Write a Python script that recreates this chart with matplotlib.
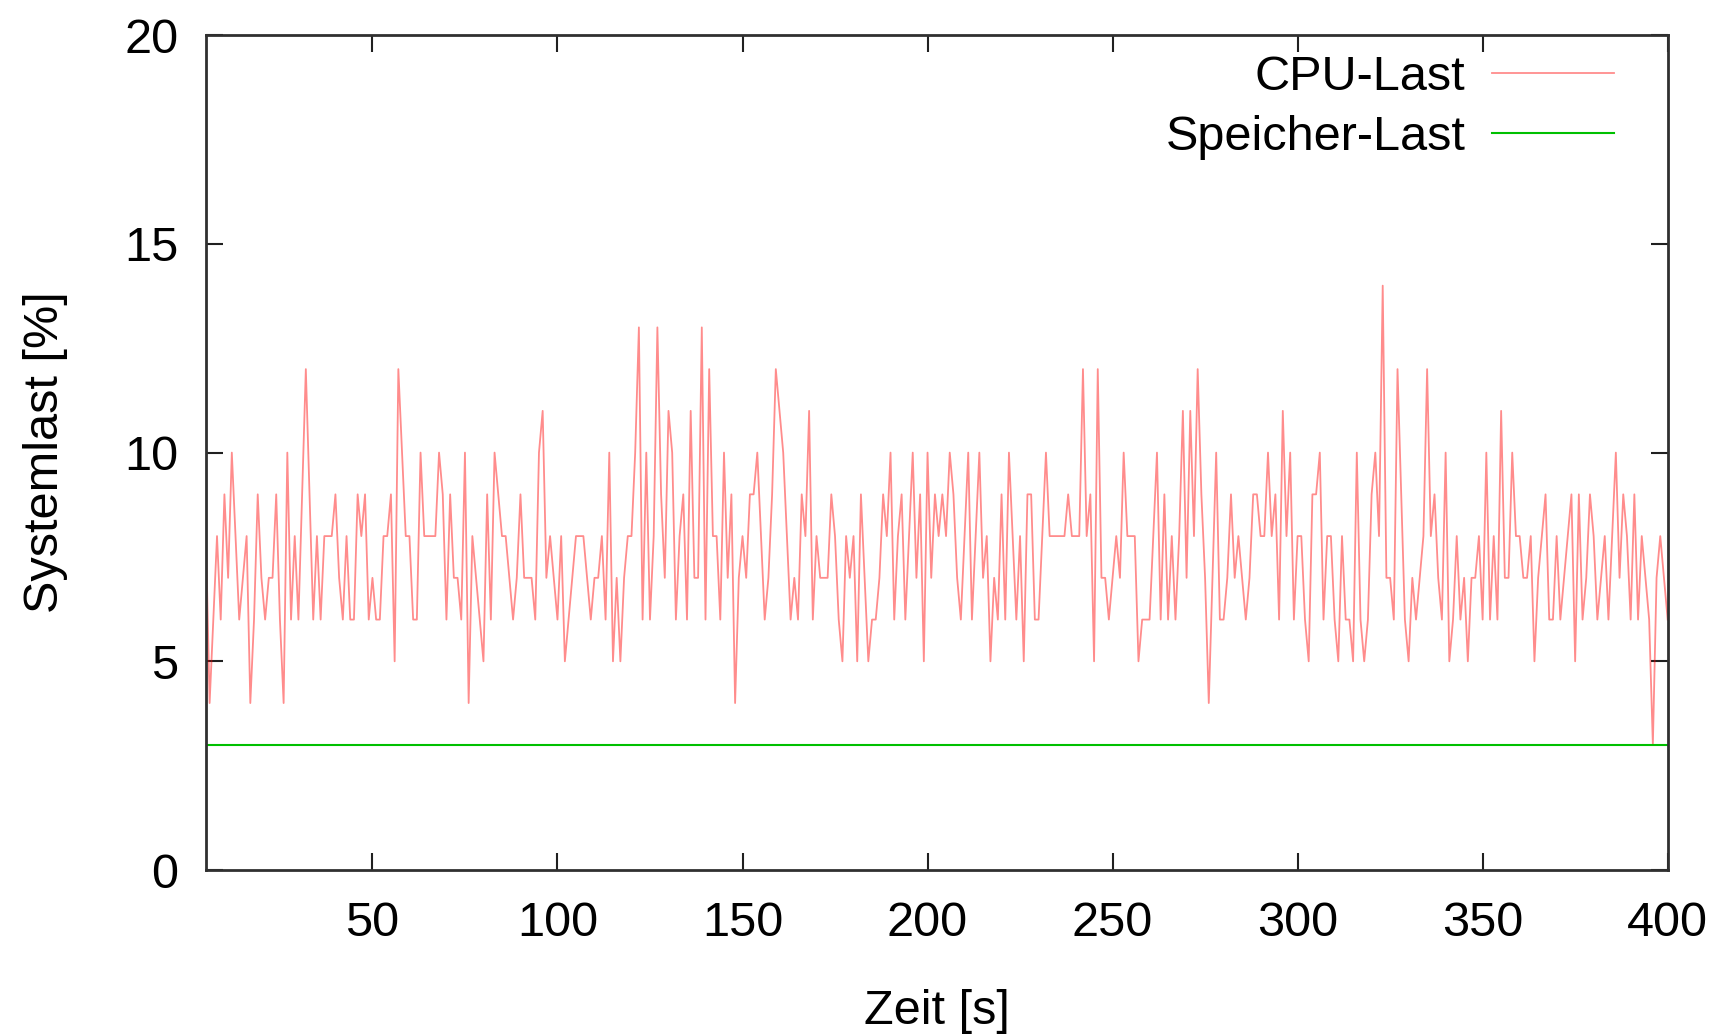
import numpy as np
import matplotlib.pyplot as plt

# CPU load per second (t = 5 ... 400 s)
cpu_005_044 = [8, 4, 6, 8, 6, 9, 7, 10, 8, 6, 7, 8, 4, 6, 9, 7, 6, 7, 7, 9,
               6, 4, 10, 6, 8, 6, 9, 12, 9, 6, 8, 6, 8, 8, 8, 9, 7, 6, 8, 6]
cpu_045_084 = [6, 9, 8, 9, 6, 7, 6, 6, 8, 8, 9, 5, 12, 10, 8, 8, 6, 6, 10, 8,
               8, 8, 8, 10, 9, 6, 9, 7, 7, 6, 10, 4, 8, 7, 6, 5, 9, 6, 10, 9]
cpu_085_124 = [8, 8, 7, 6, 7, 9, 7, 7, 7, 6, 10, 11, 7, 8, 7, 6, 8, 5, 6, 7,
               8, 8, 8, 7, 6, 7, 7, 8, 6, 10, 5, 7, 5, 7, 8, 8, 10, 13, 6, 10]
cpu_125_163 = [6, 8, 13, 9, 7, 11, 10, 6, 8, 9, 6, 11, 7, 7, 13, 6, 12, 8, 8, 6,
               10, 7, 9, 4, 7, 8, 7, 9, 9, 10, 8, 6, 7, 9, 12, 11, 10, 8, 6]
cpu_164_203 = [7, 6, 9, 8, 11, 6, 8, 7, 7, 7, 9, 8, 6, 5, 8, 7, 8, 5, 9, 7,
               5, 6, 6, 7, 9, 8, 10, 6, 8, 9, 6, 8, 10, 7, 9, 5, 10, 7, 9, 8]
cpu_204_243 = [9, 8, 10, 9, 7, 6, 8, 10, 6, 8, 10, 7, 8, 5, 7, 6, 9, 6, 10, 8,
               6, 8, 5, 9, 9, 6, 6, 8, 10, 8, 8, 8, 8, 8, 9, 8, 8, 8, 12, 8]
cpu_244_282 = [9, 5, 12, 7, 7, 6, 7, 8, 7, 10, 8, 8, 8, 5, 6, 6, 6, 8, 10, 6,
               9, 6, 8, 6, 8, 11, 7, 11, 8, 12, 9, 7, 4, 7, 10, 6, 6, 7, 9]
cpu_283_323 = [7, 8, 7, 6, 7, 9, 9, 8, 8, 10, 8, 9, 6, 11, 8, 10, 6, 8, 8, 6,
               5, 9, 9, 10, 6, 8, 8, 6, 5, 8, 6, 6, 5, 10, 6, 5, 6, 9, 10, 8, 14]
cpu_324_362 = [7, 7, 6, 12, 9, 6, 5, 7, 6, 7, 8, 12, 8, 9, 7, 6, 10, 5, 6, 8,
               6, 7, 5, 7, 7, 8, 6, 10, 6, 8, 6, 11, 7, 7, 10, 8, 8, 7, 7]
cpu_363_400 = [8, 5, 7, 8, 9, 6, 6, 8, 6, 7, 8, 9, 5, 9, 6, 7, 9, 8, 6, 7,
               8, 6, 8, 10, 7, 9, 8, 6, 9, 6, 8, 7, 6, 3, 7, 8, 7, 6]

cpu = (cpu_005_044 + cpu_045_084 + cpu_085_124 + cpu_125_163 + cpu_164_203
       + cpu_204_243 + cpu_244_282 + cpu_283_323 + cpu_324_362 + cpu_363_400)
t_start = 5
zeit = np.arange(t_start, t_start + len(cpu))
speicher_wert = 3
speicher = [speicher_wert] * len(cpu)

xticks = [50, 100, 150, 200, 250, 300, 350, 400]
yticks = [0, 5, 10, 15, 20]

plt.rcParams['font.family'] = ['Liberation Sans', 'DejaVu Sans']

fig = plt.figure(figsize=(17.26, 10.35), dpi=100)
ax = fig.add_axes([0.1193, 0.1594, 0.8469, 0.8066])

ax.plot(zeit, cpu, color='#ff0000', linewidth=1.3, alpha=0.45, label='CPU-Last')
ax.plot(zeit, speicher, color='#00c000', linewidth=1.5, label='Speicher-Last')

ax.set_xlim(zeit[0], zeit[-1])
ax.set_ylim(0, 20)
ax.set_xticks(xticks)
ax.set_yticks(yticks)

for s in ax.spines.values():
    s.set_linewidth(2.0)
    s.set_color('#303030')
ax.tick_params(direction='in', length=12, width=1.5, color='#202020',
               top=True, right=True, labelsize=35)
ax.tick_params(axis='x', pad=22)
ax.tick_params(axis='y', pad=20)

ax.set_xlabel('Zeit [s]', fontsize=35, labelpad=31)
ax.set_ylabel('Systemlast [%]', fontsize=35, labelpad=40)

ax.legend(loc='upper right', bbox_to_anchor=(0.963, 0.976), frameon=False,
          markerfirst=False, fontsize=35, handlelength=2.5, handletextpad=0.55,
          labelspacing=0.3, borderpad=0, borderaxespad=0)

fig.savefig('out.png', dpi=100)
